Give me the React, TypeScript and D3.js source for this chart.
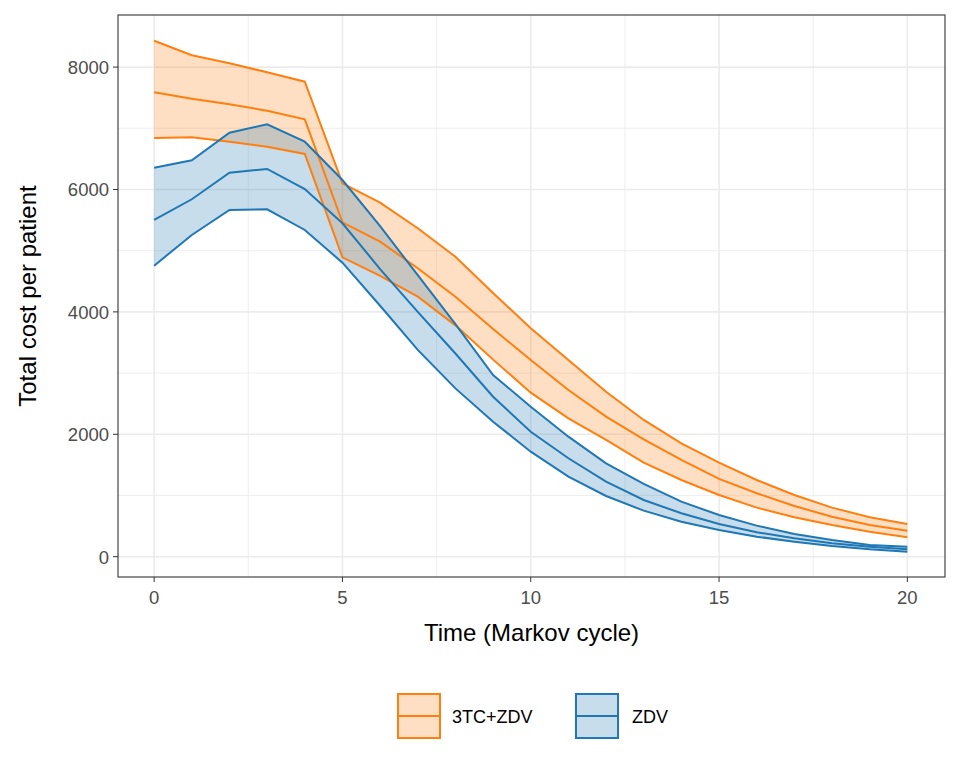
import React from "react";
import * as d3 from "d3";

const cycles = d3.range(0, 21);
const orangeUpper = [8431,8193,8062,7915,7761,6101,5784,5366,4902,4310,3732,3214,2696,2234,1853,1536,1253,1008,801,644,534];
const orangeMid = [7588,7484,7392,7288,7147,5464,5147,4712,4248,3720,3214,2724,2288,1918,1580,1270,1036,828,654,518,425];
const orangeLower = [6841,6853,6781,6699,6580,4892,4587,4248,3780,3220,2680,2261,1907,1536,1253,1008,801,644,518,409,317];
const blueUpper = [6356,6477,6928,7065,6781,6155,5400,4600,3800,2969,2451,1961,1526,1188,899,681,507,371,273,191,163];
const blueMid = [5502,5840,6275,6335,6008,5448,4700,4000,3320,2614,2042,1608,1225,926,709,534,399,301,219,163,121];
const blueLower = [4755,5257,5665,5676,5338,4804,4100,3380,2750,2206,1716,1307,992,752,572,436,327,245,175,121,82];
const xTicks = [0, 5, 10, 15, 20];
const yTicks = [0, 2000, 4000, 6000, 8000];

const series = [
  { name: "3TC+ZDV", color: "#ff7f0e", fill: "rgba(255,127,14,0.25)", up: orangeUpper, mid: orangeMid, lo: orangeLower },
  { name: "ZDV", color: "#1f77b4", fill: "rgba(31,119,180,0.25)", up: blueUpper, mid: blueMid, lo: blueLower },
];

export default function App() {
  const L = 118, R = 945, T = 15, B = 577;
  const x = d3.scaleLinear().domain([-0.96, 21.0]).range([L, R]);
  const y = d3.scaleLinear().domain([-332, 8851]).range([B, T]);
  const line = (v: number[]) => d3.line<number>().x((_, i) => x(cycles[i])).y(d => y(d))(v) || "";
  const area = (u: number[], l: number[]) =>
    d3.area<number>().x((_, i) => x(cycles[i])).y0((_, i) => y(l[i])).y1(d => y(d))(u) || "";
  const font = "Liberation Sans, Arial, sans-serif";
  return (
    <svg width={960} height={768} style={{ position: "absolute", left: 0, top: 0 }} fontFamily={font}>
      <rect width={960} height={768} fill="white" />
      {[2.5, 7.5, 12.5, 17.5].map(v => <line key={"mx" + v} x1={x(v)} x2={x(v)} y1={T} y2={B} stroke="#ebebeb" strokeWidth={0.8} />)}
      {[1000, 3000, 5000, 7000].map(v => <line key={"my" + v} x1={L} x2={R} y1={y(v)} y2={y(v)} stroke="#ebebeb" strokeWidth={0.8} />)}
      {xTicks.map(v => <line key={"gx" + v} x1={x(v)} x2={x(v)} y1={T} y2={B} stroke="#ebebeb" strokeWidth={1.6} />)}
      {yTicks.map(v => <line key={"gy" + v} x1={L} x2={R} y1={y(v)} y2={y(v)} stroke="#ebebeb" strokeWidth={1.6} />)}
      {series.map(s => <path key={"a" + s.name} d={area(s.up, s.lo)} fill={s.fill} />)}
      {series.map(s => (
        <g key={"l" + s.name} fill="none" stroke={s.color} strokeWidth={2}>
          <path d={line(s.up)} />
          <path d={line(s.mid)} />
          <path d={line(s.lo)} />
        </g>
      ))}
      <rect x={L} y={T} width={R - L} height={B - T} fill="none" stroke="#333" strokeWidth={1.1} />
      {xTicks.map(v => (
        <g key={"tx" + v}>
          <line x1={x(v)} x2={x(v)} y1={B} y2={B + 5} stroke="#333" />
          <text x={x(v)} y={B + 27} textAnchor="middle" fontSize={18.5} fill="#4d4d4d">{v}</text>
        </g>
      ))}
      {yTicks.map(v => (
        <g key={"ty" + v}>
          <line x1={L - 5} x2={L} y1={y(v)} y2={y(v)} stroke="#333" />
          <text x={L - 9} y={y(v) + 7} textAnchor="end" fontSize={18.5} fill="#4d4d4d">{v}</text>
        </g>
      ))}
      <text x={(L + R) / 2} y={641} textAnchor="middle" fontSize={24}>Time (Markov cycle)</text>
      <text transform={`translate(36,${(T + B) / 2}) rotate(-90)`} textAnchor="middle" fontSize={24}>Total cost per patient</text>
      {series.map((s, i) => {
        const kx = i === 0 ? 398 : 576;
        const tx = i === 0 ? 452 : 632;
        return (
          <g key={"lg" + s.name}>
            <rect x={kx} y={694} width={42} height={44} fill={s.fill} stroke={s.color} strokeWidth={2} />
            <line x1={kx} x2={kx + 42} y1={716} y2={716} stroke={s.color} strokeWidth={2} />
            <text x={tx} y={723} fontSize={18}>{s.name}</text>
          </g>
        );
      })}
    </svg>
  );
}
